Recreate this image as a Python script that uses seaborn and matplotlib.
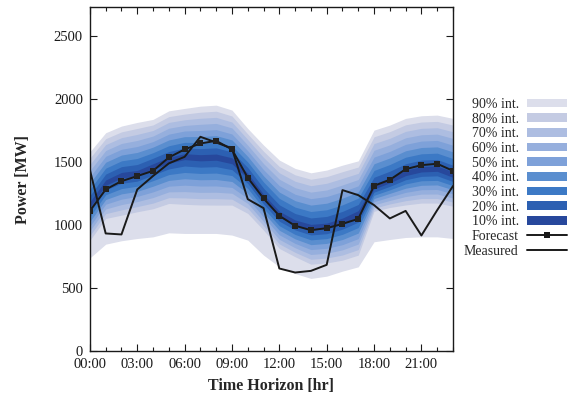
import numpy as np
import pandas as pd
import matplotlib
matplotlib.use("Agg")
import matplotlib.pyplot as plt
import seaborn as sns
from matplotlib.patches import Patch
from matplotlib.lines import Line2D

hours = list(range(24))
tick_hours = [0, 3, 6, 9, 12, 15, 18, 21]
tick_labels = ["00:00", "03:00", "06:00", "09:00", "12:00", "15:00", "18:00", "21:00"]
y_ticks = [0, 500, 1000, 1500, 2000, 2500]

forecast = [1113, 1283, 1349, 1389, 1431, 1537, 1601, 1648, 1669, 1601, 1376, 1212,
            1074, 995, 960, 976, 1010, 1050, 1312, 1360, 1444, 1476, 1487, 1431]
measured = [1437, 934, 926, 1283, 1390, 1490, 1542, 1701, 1656, 1608, 1206, 1135,
            656, 624, 637, 685, 1278, 1238, 1159, 1053, 1113, 918, 1119, 1310]

up10 = [1185, 1358, 1418, 1434, 1487, 1538, 1567, 1559, 1564, 1534, 1412, 1244, 1110, 1041, 1006, 1016, 1056, 1115, 1327, 1376, 1436, 1465, 1470, 1422]
up20 = [1234, 1405, 1464, 1481, 1531, 1584, 1612, 1607, 1613, 1581, 1457, 1293, 1161, 1092, 1057, 1069, 1109, 1164, 1380, 1428, 1487, 1516, 1521, 1475]
up30 = [1284, 1452, 1510, 1529, 1575, 1630, 1657, 1655, 1661, 1629, 1501, 1342, 1212, 1143, 1108, 1122, 1161, 1214, 1434, 1481, 1539, 1566, 1571, 1528]
up40 = [1334, 1499, 1556, 1577, 1619, 1676, 1702, 1703, 1710, 1676, 1545, 1391, 1262, 1194, 1159, 1174, 1214, 1263, 1487, 1533, 1590, 1616, 1621, 1581]
up50 = [1383, 1546, 1602, 1624, 1663, 1722, 1747, 1751, 1758, 1723, 1590, 1440, 1313, 1245, 1210, 1227, 1266, 1312, 1540, 1585, 1641, 1667, 1672, 1634]
up60 = [1433, 1592, 1648, 1672, 1707, 1769, 1791, 1800, 1807, 1771, 1634, 1488, 1364, 1297, 1262, 1279, 1319, 1362, 1594, 1637, 1693, 1717, 1722, 1688]
up70 = [1482, 1639, 1694, 1720, 1751, 1815, 1836, 1848, 1855, 1818, 1679, 1537, 1415, 1348, 1313, 1332, 1371, 1411, 1647, 1689, 1744, 1768, 1773, 1741]
up80 = [1532, 1686, 1740, 1767, 1795, 1861, 1881, 1896, 1904, 1866, 1723, 1586, 1465, 1399, 1364, 1385, 1424, 1461, 1701, 1742, 1796, 1818, 1823, 1794]
up90 = [1582, 1733, 1786, 1815, 1839, 1907, 1926, 1944, 1952, 1913, 1767, 1635, 1516, 1450, 1415, 1437, 1476, 1510, 1754, 1794, 1847, 1868, 1873, 1847]

lo10 = [1141, 1316, 1374, 1390, 1443, 1492, 1520, 1510, 1515, 1487, 1370, 1203, 1067, 997, 961, 971, 1009, 1068, 1287, 1336, 1393, 1422, 1427, 1379]
lo20 = [1104, 1279, 1332, 1349, 1398, 1446, 1469, 1460, 1464, 1440, 1331, 1168, 1031, 962, 922, 932, 968, 1024, 1262, 1308, 1360, 1387, 1391, 1346]
lo30 = [1067, 1241, 1290, 1309, 1353, 1401, 1418, 1410, 1413, 1393, 1291, 1133, 995, 926, 883, 893, 927, 981, 1237, 1280, 1327, 1352, 1355, 1313]
lo40 = [1029, 1203, 1248, 1268, 1309, 1355, 1368, 1360, 1362, 1346, 1251, 1099, 959, 891, 845, 855, 886, 937, 1211, 1252, 1293, 1316, 1319, 1281]
lo50 = [992, 1166, 1206, 1228, 1264, 1309, 1317, 1310, 1311, 1299, 1212, 1064, 923, 855, 806, 816, 845, 893, 1186, 1224, 1260, 1281, 1283, 1248]
lo60 = [955, 1128, 1163, 1187, 1219, 1264, 1266, 1260, 1261, 1253, 1172, 1029, 887, 820, 767, 777, 804, 850, 1161, 1196, 1227, 1246, 1247, 1215]
lo70 = [917, 1091, 1121, 1147, 1175, 1218, 1216, 1210, 1210, 1206, 1133, 995, 851, 784, 729, 739, 763, 806, 1135, 1168, 1194, 1211, 1211, 1183]
lo80 = [880, 1053, 1079, 1106, 1130, 1172, 1165, 1160, 1159, 1159, 1093, 960, 815, 749, 690, 700, 722, 762, 1110, 1140, 1160, 1175, 1175, 1150]
lo90 = [740, 849, 876, 894, 907, 939, 934, 934, 934, 921, 881, 762, 669, 616, 577, 595, 635, 669, 868, 886, 902, 907, 907, 894]

interval_labels = ["90% int.", "80% int.", "70% int.", "60% int.", "50% int.",
                   "40% int.", "30% int.", "20% int.", "10% int."]
interval_colors = ["#dcdeeb", "#c4cbe3", "#adbde1", "#96afdd", "#7ea1d9",
                   "#5a8ecf", "#3c79c5", "#2c60b2", "#27489c"]
uppers = [up90, up80, up70, up60, up50, up40, up30, up20, up10]
lowers = [lo90, lo80, lo70, lo60, lo50, lo40, lo30, lo20, lo10]

sns.set_theme(style="ticks")
plt.rcParams["font.family"] = ["Liberation Serif", "DejaVu Serif"]

fig = plt.figure(figsize=(5.8, 3.95), dpi=100)
ax = fig.add_axes([0.155, 0.111, 0.626, 0.871])

for lab, col, up, lo in zip(interval_labels, interval_colors, uppers, lowers):
    ax.fill_between(hours, lo, up, color=col, linewidth=0, zorder=1)

df = pd.DataFrame({"hour": hours, "Forecast": forecast, "Measured": measured})
sns.lineplot(data=df, x="hour", y="Measured", ax=ax, color="#1a1a1a",
             linewidth=1.4, zorder=3)
sns.lineplot(data=df, x="hour", y="Forecast", ax=ax, color="#1a1a1a",
             linewidth=1.4, marker="s", markersize=4.5, markeredgewidth=0,
             markerfacecolor="#222222", zorder=4)

ax.set_xlim(0, 23)
ax.set_ylim(0, 2730)
ax.set_xticks(tick_hours)
ax.set_xticklabels(tick_labels)
ax.set_xticks(hours, minor=True)
ax.set_yticks(y_ticks)
ax.tick_params(which="both", direction="in", top=True, right=True,
               colors="#1a1a1a", labelsize=10.5, pad=5)
ax.tick_params(which="major", length=5, width=0.8)
ax.tick_params(which="minor", length=3, width=0.8)
for s in ax.spines.values():
    s.set_color("#1a1a1a")
    s.set_linewidth(1.0)
ax.set_xlabel("Time Horizon [hr]", fontsize=11.5, fontweight="bold", labelpad=5)
ax.set_ylabel("Power [MW]", fontsize=11.5, fontweight="bold", labelpad=16)

handles = [Patch(facecolor=c, edgecolor="none") for c in interval_colors]
handles.append(Line2D([], [], color="#1a1a1a", linewidth=1.4, marker="s",
                      markersize=4.5, markeredgewidth=0))
handles.append(Line2D([], [], color="#1a1a1a", linewidth=1.4))
labels = interval_labels + ["Forecast", "Measured"]
fig.legend(handles, labels, loc="upper right", bbox_to_anchor=(0.978, 0.752),
           frameon=False, markerfirst=False, fontsize=10, labelspacing=0.12,
           handlelength=2.9, handleheight=0.6, handletextpad=0.6,
           borderpad=0, borderaxespad=0)

fig.savefig("out.png", dpi=100)
